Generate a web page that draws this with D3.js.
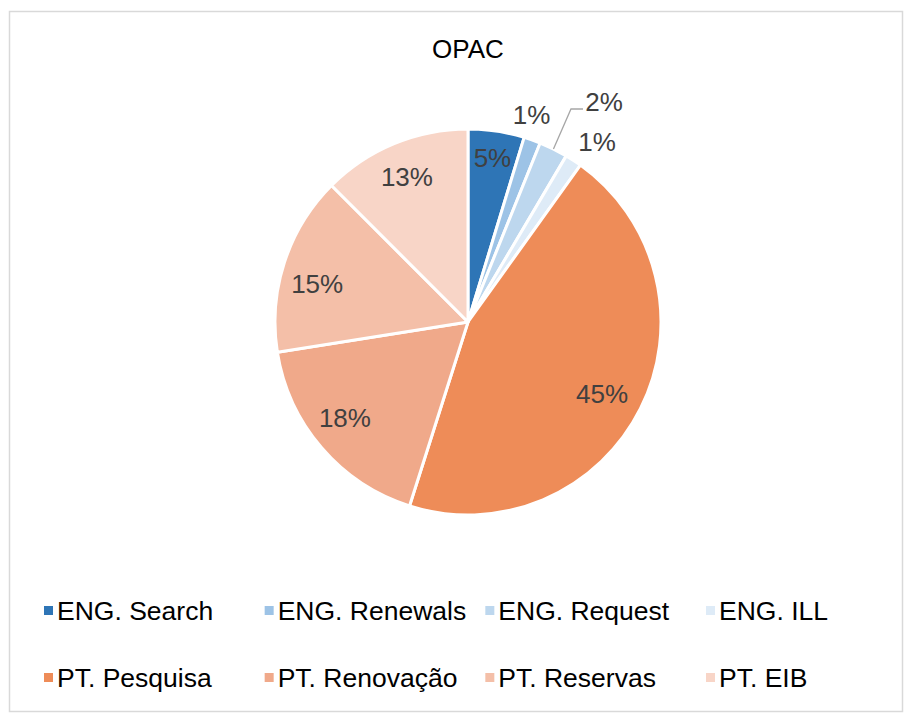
<!DOCTYPE html>
<html>
<head>
<meta charset="utf-8">
<script src="https://cdn.jsdelivr.net/npm/d3@7"></script>
<style>
  body { margin: 0; background: #fff; }
  text { font-family: "Liberation Sans", Arial, sans-serif; }
</style>
</head>
<body>
<svg id="chart"></svg>
<script>
// data
const categories = ["ENG. Search", "ENG. Renewals", "ENG. Request", "ENG. ILL",
                    "PT. Pesquisa", "PT. Renovação", "PT. Reservas", "PT. EIB"];
const shares = [4.7, 1.4, 2.4, 1.4, 45.0, 17.6, 15.0, 12.5];
const colors = ["#2e75b6", "#9dc3e6", "#bdd7ee", "#deebf7",
                "#ee8c58", "#f0a98a", "#f4bfa8", "#f8d5c7"];

var width = 912, height = 720;
var cx = 468, cy = 322, radius = 193;

const svg = d3.select("#chart").attr("width", width).attr("height", height);

// frame
svg.append("rect").attr("x", 9.5).attr("y", 11.5).attr("width", 893).attr("height", 700)
    .attr("fill", "#fff").attr("stroke", "#d9d9d9").attr("stroke-width", 1.5);

svg.append("text").attr("x", cx).attr("y", 58).attr("text-anchor", "middle")
    .attr("font-size", 26).attr("fill", "#000").text("OPAC");

const pie = d3.pie().sort(null).value(d => d);
const arcs = pie(shares);
const arc = d3.arc().innerRadius(0).outerRadius(radius);

const g = svg.append("g").attr("transform", "translate(" + cx + "," + cy + ")");

g.selectAll("path").data(arcs).enter().append("path")
    .attr("d", arc)
    .attr("fill", (d, i) => colors[i])
    .attr("stroke", "#fff").attr("stroke-width", 3).attr("stroke-linejoin", "round");

// label placement: big slices inside, small ones outside
// small nudges to mimic excel's best-fit placement
var nudge = {1: [-9, -1], 3: [10, 3], 4: [-4, 3], 5: [-6, -5], 6: [-4, 10], 7: [-2, -2]};
function labelPos(d, i) {
    var a = (d.startAngle + d.endAngle) / 2;
    var r = radius * 0.8;
    if (d.value < 3) r = radius * 1.13;
    if (d.value > 4 && d.value < 6) r = radius * 0.86;
    if (i == 2) { r = radius * 1.34; a += 0.095; }
    var n = nudge[i] || [0, 0];
    return [Math.sin(a) * r + n[0], -Math.cos(a) * r + n[1]];
}

// leader line for the crowded slice
var lead = arcs[2];
var la = (lead.startAngle + lead.endAngle) / 2;
var lp = labelPos(lead, 2);
g.append("polyline")
    .attr("points", [[Math.sin(la) * radius, -Math.cos(la) * radius],
                     [lp[0] - 33, lp[1] + 7], [lp[0] - 21, lp[1] + 7]].map(p => p.join(",")).join(" "))
    .attr("fill", "none").attr("stroke", "#a6a6a6").attr("stroke-width", 1.3);

g.selectAll("text.lbl").data(arcs).enter().append("text")
    .attr("class", "lbl")
    .attr("x", (d, i) => labelPos(d, i)[0])
    .attr("y", (d, i) => labelPos(d, i)[1])
    .attr("dy", "0.35em")
    .attr("text-anchor", "middle")
    .attr("font-size", 26)
    .attr("fill", "#404040")
    .text(d => Math.round(d.value) + "%");

// legend, two rows of four
var colX = d3.scaleLinear().domain([0, 3]).range([44, 706]);
var rowY = d3.scaleLinear().domain([0, 1]).range([611, 678]);
const leg = svg.append("g").selectAll("g").data(categories).enter().append("g")
    .attr("transform", (d, i) => "translate(" + colX(i % 4) + "," + rowY(Math.floor(i / 4)) + ")");
leg.append("rect").attr("x", 0).attr("y", -5).attr("width", 9).attr("height", 9)
    .attr("fill", (d, i) => colors[i]);
leg.append("text").attr("x", 13).attr("y", 0).attr("dy", "0.35em")
    .attr("font-size", 26.5).attr("fill", "#000").text(d => d);
</script>
</body>
</html>
